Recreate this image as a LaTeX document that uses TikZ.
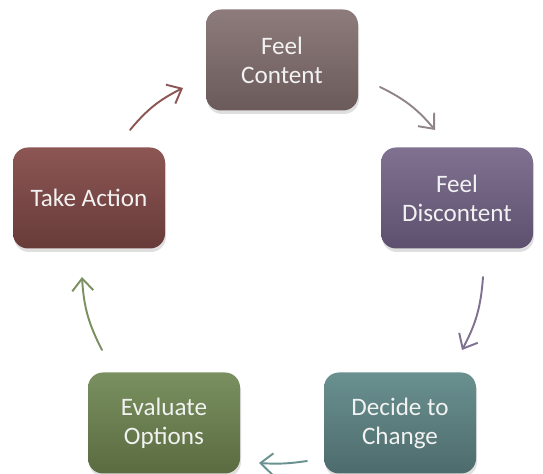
\documentclass[tikz,border=0pt]{standalone}
\usepackage{fontspec}
\setmainfont{Carlito}
\usetikzlibrary{arrows.meta, shadows}
\definecolor{contentA}{HTML}{8D7C7B}
\definecolor{contentB}{HTML}{6B5A5A}
\definecolor{discA}{HTML}{807191}
\definecolor{discB}{HTML}{5D506E}
\definecolor{changeA}{HTML}{6A9090}
\definecolor{changeB}{HTML}{4D6B6C}
\definecolor{evalA}{HTML}{7A9060}
\definecolor{evalB}{HTML}{5A6B40}
\definecolor{actionA}{HTML}{8C5654}
\definecolor{actionB}{HTML}{673B39}
\definecolor{greyarrow}{HTML}{928587}

\begin{document}
\begin{tikzpicture}[thick,
    box/.style={rounded corners=0.3cm, minimum width=3.04cm, minimum height=2.02cm,
        align=center, text=white!95!black, font=\fontsize{14.3pt}{16.5pt}\selectfont,
        drop shadow={shadow xshift=0.02cm, shadow yshift=-0.07cm, opacity=0.25}},
    arr/.style={-{Straight Barb[length=7pt, width=12pt]}, line width=1.1pt, line cap=round}]
    \useasboundingbox (0,0) rectangle (10.86,9.48);
    % the five steps
    \node[box, top color=contentA, bottom color=contentB] (content) at (5.64,8.28) {Feel\\Content};
    \node[box, top color=discA, bottom color=discB] (discontent) at (9.14,5.52) {Feel\\Discontent};
    \node[box, top color=changeA, bottom color=changeB] (change) at (8.00,1.02) {Decide to\\Change};
    \node[box, top color=evalA, bottom color=evalB] (evaluate) at (3.28,1.02) {Evaluate\\Options};
    \node[box, top color=actionA, bottom color=actionB] (action) at (1.78,5.52) {Take Action};
    % arrow ends
    \coordinate (a1) at (2.60,6.88); \coordinate (b1) at (3.66,7.72);
    \coordinate (a2) at (7.60,7.74); \coordinate (b2) at (8.70,6.88);
    \coordinate (a3) at (9.66,3.94); \coordinate (b3) at (9.24,2.48);
    \coordinate (a4) at (6.14,0.26); \coordinate (b4) at (5.18,0.22);
    \coordinate (a5) at (2.04,2.48); \coordinate (b5) at (1.64,3.94);
    \draw[arr, draw=actionA] (a1) to[bend left=12] (b1);
    \draw[arr, draw=greyarrow] (a2) to[bend left=12] (b2);
    \draw[arr, draw=discA] (a3) to[bend left=12] (b3);
    \draw[arr, draw=changeA] (a4) to[bend left=6] (b4);
    \draw[arr, draw=evalA] (a5) to[bend left=12] (b5);
\end{tikzpicture}
\end{document}
